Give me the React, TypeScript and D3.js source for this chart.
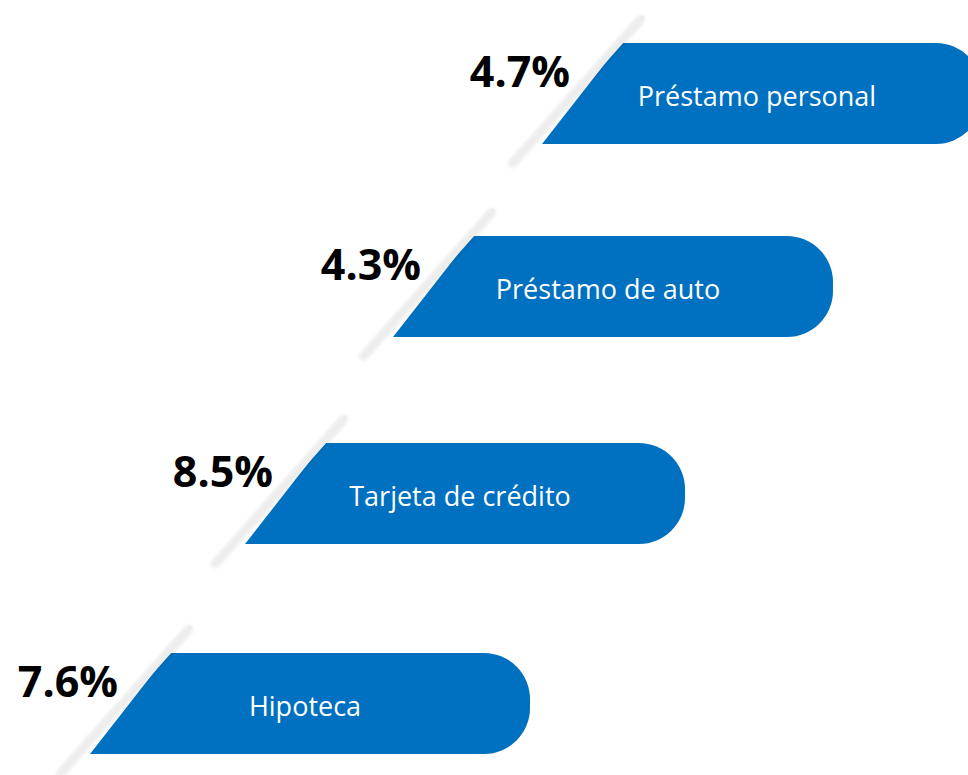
import React from "react";
import * as d3 from "d3";

const categories = ["Préstamo personal", "Préstamo de auto", "Tarjeta de crédito", "Hipoteca"];
const values = [4.7, 4.3, 8.5, 7.6];

const W = 968;
const H = 775;
const BAR_W = 440;
const BAR_H = 101;
const SLANT = 79;
const R = 46;
const BLUE = "#0070C0";

export default function App() {
  const idx = categories.map((_, i) => i);
  const yTop = d3.scaleLinear().domain([0, 1, 2, 3]).range([43, 236, 443, 653]);
  const xBottomLeft = d3.scaleLinear().domain([0, 1, 2, 3]).range([542, 393, 245, 90]);
  const fmt = (v: number) => d3.format(".1f")(v) + "%";

  const barPath = (i: number) => {
    const top = yTop(i);
    const bottom = top + BAR_H;
    const bl = xBottomLeft(i);
    const tl = bl + SLANT;
    const right = bl + BAR_W;
    const p = d3.path();
    p.moveTo(bl, bottom);
    p.lineTo(tl, top);
    p.lineTo(right - R, top);
    p.arcTo(right, top, right, top + R, R);
    p.lineTo(right, bottom - R);
    p.arcTo(right, bottom, right - R, bottom, R);
    p.closePath();
    return p.toString();
  };

  return (
    <svg
      width={W}
      height={H}
      style={{ position: "fixed", left: 0, top: 0, background: "#fff" }}
      viewBox={`0 0 ${W} ${H}`}
    >
      <defs>
        <filter id="sh" x="-50%" y="-50%" width="200%" height="200%">
          <feGaussianBlur in="SourceAlpha" stdDeviation="2.5" />
          <feOffset dx="-1" dy="1" result="b" />
          <feComponentTransfer>
            <feFuncA type="linear" slope="0.18" />
          </feComponentTransfer>
          <feMerge>
            <feMergeNode />
            <feMergeNode in="SourceGraphic" />
          </feMerge>
        </filter>
      </defs>
      {idx.map((i) => {
        const top = yTop(i);
        const bottom = top + BAR_H;
        const bl = xBottomLeft(i);
        const tl = bl + SLANT;
        return (
          <g key={categories[i]}>
            <path d={barPath(i)} fill={BLUE} />
            <line
              x1={tl + 21}
              y1={top - 25}
              x2={bl - 29}
              y2={bottom + 19}
              stroke="#ededed"
              strokeWidth={5}
              strokeLinecap="round"
              filter="url(#sh)"
            />
            <text
              x={tl - 51}
              y={top + 44}
              textAnchor="end"
              fontFamily="'Open Sans', sans-serif"
              fontWeight={700}
              fontSize={43}
              fill="#000"
            >
              {fmt(values[i])}
            </text>
            <text
              x={bl + 215}
              y={top + 63}
              textAnchor="middle"
              fontFamily="'Open Sans', sans-serif"
              fontSize={27}
              fill="#fff"
            >
              {categories[i]}
            </text>
          </g>
        );
      })}
    </svg>
  );
}
